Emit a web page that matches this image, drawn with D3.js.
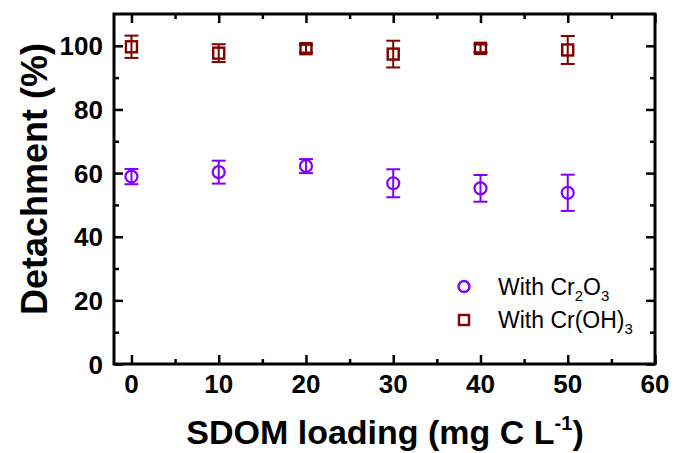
<!DOCTYPE html>
<html>
<head>
<meta charset="utf-8">
<script src="https://cdn.jsdelivr.net/npm/d3@7"></script>
<style>
  html, body { margin: 0; padding: 0; background: #fff; }
  svg { display: block; font-family: Arial, "Liberation Sans", sans-serif; }
</style>
</head>
<body>
<svg id="chart" width="674" height="453"></svg>
<script>
// SDOM loading (mg C L-1)
const loading = [0, 10, 20, 30, 40, 50];
// Detachment (%) and error bars
const cr2o3Mean = [58.9, 60.3, 62.2, 56.8, 55.2, 53.8];
const cr2o3Err  = [2.4, 3.6, 2.2, 4.4, 4.2, 5.7];
const croh3Mean = [99.7, 97.7, 99.1, 97.4, 99.2, 98.7];
const croh3Err  = [3.5, 2.8, 1.2, 4.2, 1.2, 4.4];
const xTicks = [0, 10, 20, 30, 40, 50, 60];
const yTicks = [0, 20, 40, 60, 80, 100];

const purple = "#8000ff";
const darkRed = "#800000";

const svg = d3.select("#chart");
const m = { left: 114, right: 655, top: 14, bottom: 364 };

const x = d3.scaleLinear().domain([-2, 60]).range([m.left, m.right]);
const y = d3.scaleLinear().domain([0, 110]).range([m.bottom, m.top]);

const xMinor = d3.range(5, 60, 10);
const yMinor = d3.range(10, 110, 20);

// inward ticks on all four sides
function tickAxis(axisFn, scale, values, size, pos) {
  const g = svg.append("g").attr("transform", pos)
    .call(axisFn(scale).tickValues(values).tickSize(size).tickFormat(""));
  g.select(".domain").remove();
  g.selectAll(".tick line").attr("stroke", "#000").attr("stroke-width", 2.5);
  return g;
}
tickAxis(d3.axisBottom, x, xTicks, -9, `translate(0,${m.bottom})`);
tickAxis(d3.axisBottom, x, xMinor, -5, `translate(0,${m.bottom})`);
tickAxis(d3.axisTop, x, xTicks, -9, `translate(0,${m.top})`);
tickAxis(d3.axisTop, x, xMinor, -5, `translate(0,${m.top})`);
tickAxis(d3.axisLeft, y, yTicks, -9, `translate(${m.left},0)`);
tickAxis(d3.axisLeft, y, yMinor, -5, `translate(${m.left},0)`);
tickAxis(d3.axisRight, y, yTicks, -9, `translate(${m.right},0)`);
tickAxis(d3.axisRight, y, yMinor, -5, `translate(${m.right},0)`);

// frame
svg.append("rect")
  .attr("x", m.left).attr("y", m.top)
  .attr("width", m.right - m.left).attr("height", m.bottom - m.top)
  .attr("fill", "none").attr("stroke", "#000").attr("stroke-width", 3);

// tick labels
svg.append("g").selectAll("text").data(xTicks).join("text")
  .attr("x", d => x(d)).attr("y", 393)
  .attr("text-anchor", "middle")
  .attr("font-size", 26).attr("font-weight", "bold")
  .text(d => d);
svg.append("g").selectAll("text").data(yTicks).join("text")
  .attr("x", 103).attr("y", d => y(d) + 9.5)
  .attr("text-anchor", "end")
  .attr("font-size", 26).attr("font-weight", "bold")
  .text(d => d);

// axis titles
const xt = svg.append("text")
  .attr("x", 385).attr("y", 444)
  .attr("text-anchor", "middle")
  .attr("font-size", 34).attr("font-weight", "bold");
xt.append("tspan").text("SDOM loading (mg C L");
xt.append("tspan").attr("font-size", 20).attr("dy", -14).text("-1");
xt.append("tspan").attr("dy", 14).text(")");

svg.append("text")
  .attr("transform", `translate(47,179) rotate(-90)`)
  .attr("text-anchor", "middle")
  .attr("font-size", 36).attr("font-weight", "bold")
  .text("Detachment (%)");

// series
function drawSeries(means, errs, color, shape) {
  const g = svg.append("g");
  const rows = loading.map((v, i) => ({ x: v, m: means[i], e: errs[i] }));
  const pts = g.selectAll("g").data(rows).join("g");
  pts.append("line")
    .attr("x1", d => x(d.x)).attr("x2", d => x(d.x))
    .attr("y1", d => y(d.m + d.e)).attr("y2", d => y(d.m - d.e))
    .attr("stroke", color).attr("stroke-width", 2);
  [1, -1].forEach(s => {
    pts.append("line")
      .attr("x1", d => x(d.x) - 7).attr("x2", d => x(d.x) + 7)
      .attr("y1", d => y(d.m + s * d.e)).attr("y2", d => y(d.m + s * d.e))
      .attr("stroke", color).attr("stroke-width", 2);
  });
  if (shape === "circle") {
    pts.append("circle")
      .attr("cx", d => x(d.x)).attr("cy", d => y(d.m)).attr("r", 6)
      .attr("fill", "none").attr("stroke", color).attr("stroke-width", 2.2);
  } else {
    pts.append("rect")
      .attr("x", d => x(d.x) - 5.5).attr("y", d => y(d.m) - 5.5)
      .attr("width", 11).attr("height", 11)
      .attr("fill", "none").attr("stroke", color).attr("stroke-width", 2.4);
  }
}
drawSeries(croh3Mean, croh3Err, darkRed, "square");
drawSeries(cr2o3Mean, cr2o3Err, purple, "circle");

// legend
const leg = svg.append("g");
leg.append("circle").attr("cx", 464).attr("cy", 286.5).attr("r", 5.5)
  .attr("fill", "none").attr("stroke", purple).attr("stroke-width", 2.4);
leg.append("rect").attr("x", 459).attr("y", 315).attr("width", 10).attr("height", 10)
  .attr("fill", "none").attr("stroke", darkRed).attr("stroke-width", 2.4);
const t1 = leg.append("text").attr("x", 498).attr("y", 295).attr("font-size", 23);
t1.append("tspan").text("With Cr");
t1.append("tspan").attr("font-size", 15).attr("dy", 6).text("2");
t1.append("tspan").attr("dy", -6).text("O");
t1.append("tspan").attr("font-size", 15).attr("dy", 6).text("3");
const t2 = leg.append("text").attr("x", 498).attr("y", 328).attr("font-size", 23);
t2.append("tspan").text("With Cr(OH)");
t2.append("tspan").attr("font-size", 15).attr("dy", 6).text("3");
</script>
</body>
</html>
